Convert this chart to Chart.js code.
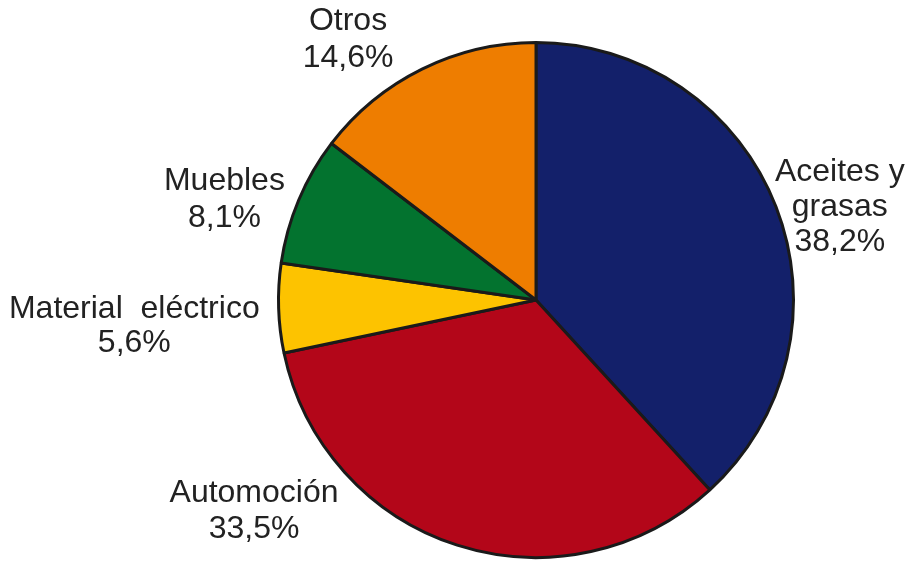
<!DOCTYPE html>
<html>
<head>
<meta charset="utf-8">
<script src="https://cdn.jsdelivr.net/npm/chart.js@4/dist/chart.umd.min.js"></script>
<style>
  html, body { margin: 0; padding: 0; background: #fff; }
  #wrap { width: 914px; height: 563px; }
</style>
</head>
<body>
<div id="wrap"><canvas id="myChart"></canvas></div>
<script>
// datos
const categorias = ['Aceites y grasas', 'Automoción', 'Material eléctrico', 'Muebles', 'Otros'];
const valores = [38.2, 33.5, 5.6, 8.1, 14.6];
const lineasEtiqueta = [
    ['Aceites y', 'grasas', '38,2%'],
    ['Automoción', '33,5%'],
    ['Material  eléctrico', '5,6%'],
    ['Muebles', '8,1%'],
    ['Otros', '14,6%']
];
const colores = ['#13206a', '#b30619', '#fdc300', '#03732f', '#ee7d00'];

// posicion de cada etiqueta, en radios desde el centro de la tarta
const anclas = [
    { x: 1.18, y: -0.36, salto: 35 },
    { x: -1.095, y: 0.82, salto: 36 },
    { x: -1.56, y: 0.10, salto: 34 },
    { x: -1.21, y: -0.39, salto: 37 },
    { x: -0.73, y: -1.01, salto: 37 }
];

const etiquetas = {
    id: 'etiquetas',
    afterDatasetsDraw(chart) {
        const ctx = chart.ctx;
        const meta = chart.getDatasetMeta(0);
        ctx.save();
        ctx.font = '32px "Liberation Sans", Arial, sans-serif';
        ctx.fillStyle = '#222222';
        ctx.textAlign = 'center';
        ctx.textBaseline = 'middle';
        meta.data.forEach((arc, i) => {
            const r = arc.outerRadius;
            const a = anclas[i];
            const lineas = lineasEtiqueta[i];
            const cx = arc.x + a.x * r;
            const cy = arc.y + a.y * r;
            const y0 = cy - (lineas.length - 1) * a.salto / 2;
            lineas.forEach((t, j) => ctx.fillText(t, cx, y0 + j * a.salto));
        });
        ctx.restore();
    }
};

new Chart(document.getElementById('myChart'), {
    type: 'pie',
    data: {
        labels: categorias,
        datasets: [{
            data: valores,
            backgroundColor: colores,
            borderColor: '#1a1a1a',
            borderWidth: 3,
            hoverBorderWidth: 3,
            hoverOffset: 0
        }]
    },
    options: {
        responsive: true,
        maintainAspectRatio: false,
        animation: false,
        layout: { padding: { left: 158, right: 0, top: 41, bottom: 4 } },
        plugins: {
            legend: { display: false },
            tooltip: { enabled: false }
        }
    },
    plugins: [etiquetas]
});
</script>
</body>
</html>
